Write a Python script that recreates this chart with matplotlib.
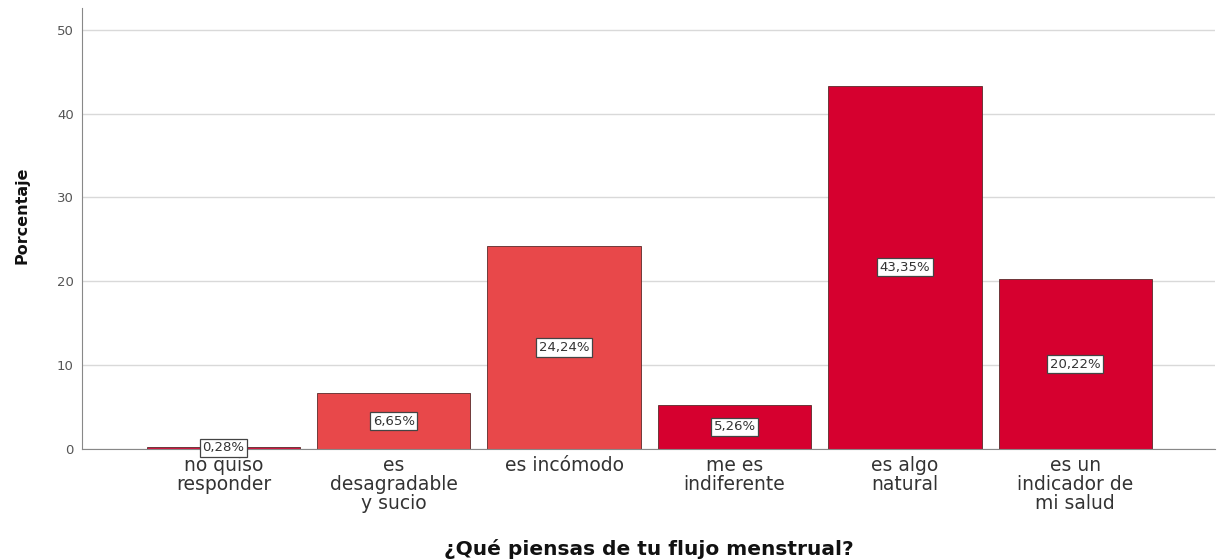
import matplotlib as mpl

mpl.use("Agg")

import matplotlib.pyplot as plt
import numpy as np

categories = [
    "no quiso\nresponder",
    "es\ndesagradable\ny sucio",
    "es incómodo",
    "me es\nindiferente",
    "es algo\nnatural",
    "es un\nindicador de\nmi salud",
]
percentages = [0.28, 6.65, 24.24, 5.26, 43.35, 20.22]
bar_colors = ["#D3133F", "#E8484A", "#E8484A", "#D6002F", "#D6002F", "#D6002F"]
y_ticks = [0, 10, 20, 30, 40, 50]

fig = plt.figure(figsize=(12.21, 5.59), dpi=100)
ax = fig.add_axes([0.0672, 0.1968, 0.9278, 0.7889])

x = np.arange(len(categories))
ax.bar(x, percentages, width=0.9, color=bar_colors, edgecolor="#5A2A2A", linewidth=0.6, zorder=2)

for xi, val in zip(x, percentages):
    ax.text(
        xi, val / 2, f"{val:.2f}%".replace(".", ","),
        ha="center", va="center", fontsize=9.5, color="#333333", zorder=4,
        bbox=dict(boxstyle="square,pad=0.2", facecolor="white", edgecolor="#444444", linewidth=0.9),
    )

ax.set_xlim(-0.83, 5.82)
ax.set_ylim(0, 52.6)
ax.set_yticks(y_ticks)
ax.set_yticklabels([str(t) for t in y_ticks], fontsize=9.5, color="#555555")
ax.set_xticks(x)
ax.set_xticklabels(categories, fontsize=13.5, color="#333333", linespacing=1.0)
ax.tick_params(axis="x", length=0, pad=5)
ax.tick_params(axis="y", length=0, pad=6)

ax.grid(axis="y", color="#D9D9D9", linewidth=1.0, zorder=0)
for side in ["top", "right"]:
    ax.spines[side].set_visible(False)
ax.spines["left"].set_color("#888888")
ax.spines["bottom"].set_color("#888888")

ax.set_ylabel("Porcentaje", fontsize=11.5, fontweight="bold", color="#111111")
ax.yaxis.set_label_coords(-0.046, 0.53)
ax.set_xlabel("¿Qué piensas de tu flujo menstrual?", fontsize=14.5, fontweight="bold", color="#111111")
ax.xaxis.set_label_coords(0.5, -0.205)

fig.savefig("out.png", dpi=100)
